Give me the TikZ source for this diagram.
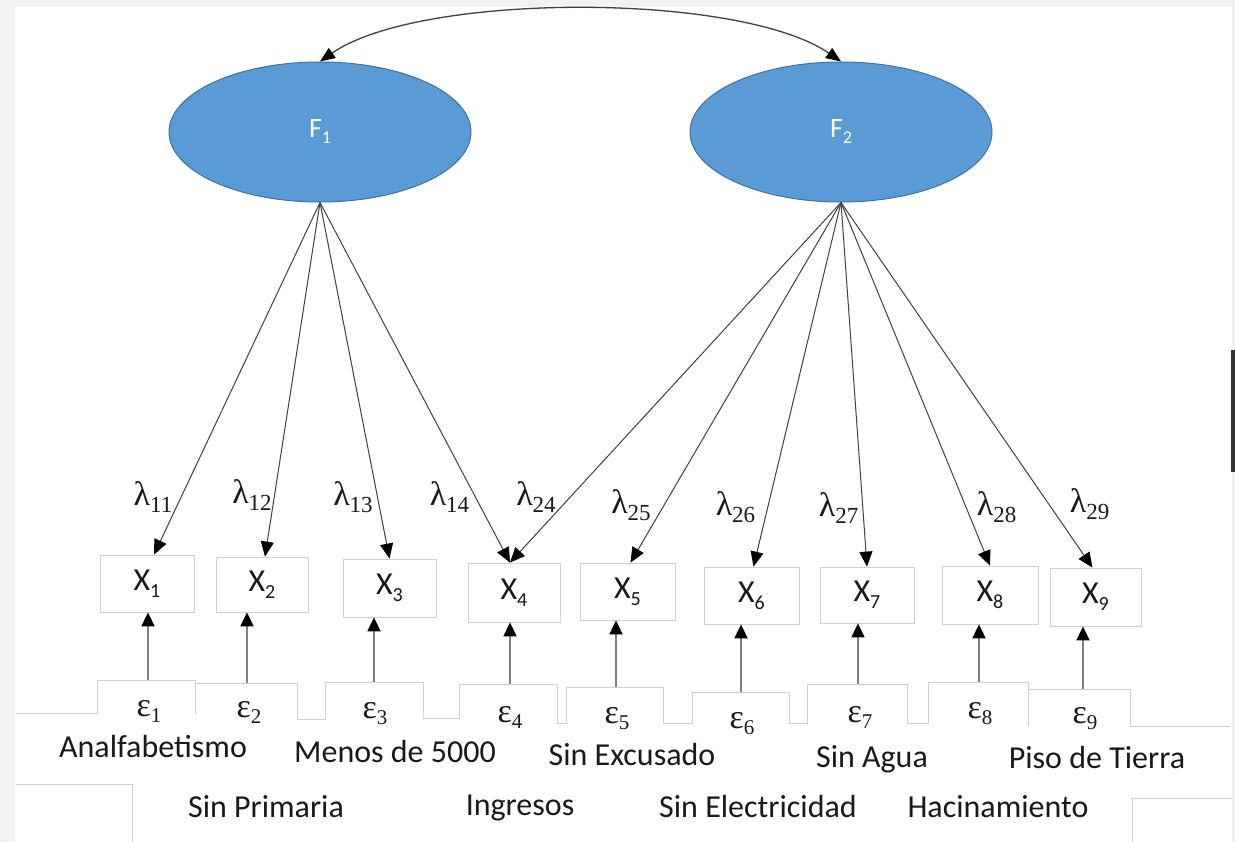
\documentclass[tikz,border=0pt]{standalone}
\usepackage{fontspec}
\setmainfont{Carlito}
\newfontfamily\serifgr{Liberation Serif}
\usetikzlibrary{arrows.meta,shapes.geometric,calc}
\definecolor{fblue}{HTML}{5B9BD5}
\definecolor{fborder}{HTML}{41719C}
\definecolor{boxgray}{HTML}{D0D0D0}
\definecolor{linegray}{HTML}{404040}
\definecolor{errgray}{HTML}{808080}
\definecolor{bggray}{HTML}{F2F2F2}
\definecolor{darkbar}{HTML}{3B342E}
\newcommand{\myfs}[1]{\fontsize{#1}{#1}\selectfont}
\newcommand{\mysub}[3]{\raisebox{-#1}{\myfs{#2}#3}}
\begin{document}
\begin{tikzpicture}[x=1pt,y=-1pt,
  latent/.style={ellipse, draw=fborder, line width=1pt, fill=fblue, text=white, minimum width=302pt, minimum height=140pt, inner sep=0pt, font=\myfs{28}},
  obs/.style={rectangle, draw=boxgray, line width=0.8pt, inner sep=0pt, font=\myfs{32}, text=black!90},
  errlab/.style={inner sep=0pt, font=\serifgr\myfs{34}, text=black!90},
  lamlab/.style={inner sep=0pt, font=\serifgr\myfs{34}, text=black!90},
  varlab/.style={inner sep=0pt, anchor=base, font=\myfs{32}, text=black!90},
  load/.style={draw=linegray, line width=1pt, -{Triangle[length=15pt,width=13pt,color=black]}},
  errarr/.style={draw=errgray, line width=1.8pt, -{Triangle[length=14pt,width=13pt,color=black]}},
  corr/.style={draw=linegray, line width=1.3pt, {Triangle[length=15pt,width=12pt,color=black]}-{Triangle[length=15pt,width=12pt,color=black]}},
  edgeline/.style={draw=boxgray, line width=0.8pt}
]
\useasboundingbox (0,0) rectangle (1235,842);
\fill[bggray] (0,0) rectangle (1235,842);
\fill[white] (15,7) rectangle (1232,842);
\fill[darkbar] (1231,350) rectangle (1235,472);

% latent factors
\node[latent] (F1) at (320,132) {F\mysub{6pt}{18}{1}};
\node[latent] (F2) at (841,132) {F\mysub{6pt}{18}{2}};
\draw[corr] (F1.north) .. controls (420,-8) and (740,-8) .. (F2.north);

% observed variables
\node[obs, minimum width=94pt, minimum height=57pt] (X1) at (147,583.5) {X\mysub{7pt}{20}{1}};
\node[obs, minimum width=92pt, minimum height=55pt] (X2) at (262,584.5) {X\mysub{7pt}{20}{2}};
\node[obs, minimum width=93pt, minimum height=58pt] (X3) at (389.5,588) {X\mysub{7pt}{20}{3}};
\node[obs, minimum width=92pt, minimum height=59pt] (X4) at (514,592.5) {X\mysub{7pt}{20}{4}};
\node[obs, minimum width=95pt, minimum height=57pt] (X5) at (627.5,591.5) {X\mysub{7pt}{20}{5}};
\node[obs, minimum width=95pt, minimum height=57pt] (X6) at (751.5,595.5) {X\mysub{7pt}{20}{6}};
\node[obs, minimum width=94pt, minimum height=56pt] (X7) at (867,595) {X\mysub{7pt}{20}{7}};
\node[obs, minimum width=96pt, minimum height=58pt] (X8) at (990,595) {X\mysub{7pt}{20}{8}};
\node[obs, minimum width=91pt, minimum height=58pt] (X9) at (1095.5,597) {X\mysub{7pt}{20}{9}};

% loadings
\draw[load] (F1.south) -- ([xshift=7pt]X1.north);
\draw[load] (F1.south) -- ([xshift=3pt]X2.north);
\draw[load] (F1.south) -- (X3.north);
\draw[load] (F1.south) -- ([xshift=-4pt]X4.north);
\draw[load] (F2.south) -- ([xshift=-4pt]X4.north);
\draw[load] (F2.south) -- ([xshift=3pt]X5.north);
\draw[load] (F2.south) -- ([xshift=2pt]X6.north);
\draw[load] (F2.south) -- (X7.north);
\draw[load] (F2.south) -- (X8.north);
\draw[load] (F2.south) -- ([xshift=-3pt]X9.north);

% loading labels
\node[lamlab] (L11) at (153,497) {λ\mysub{7pt}{23}{11}};
\node[lamlab] (L12) at (252,495) {λ\mysub{7pt}{23}{12}};
\node[lamlab] (L13) at (353,497) {λ\mysub{7pt}{23}{13}};
\node[lamlab] (L14) at (449.5,497) {λ\mysub{7pt}{23}{14}};
\node[lamlab] (L24) at (536,497) {λ\mysub{7pt}{23}{24}};
\node[lamlab] (L25) at (631,505) {λ\mysub{7pt}{23}{25}};
\node[lamlab] (L26) at (735.5,507) {λ\mysub{7pt}{23}{26}};
\node[lamlab] (L27) at (838.5,508) {λ\mysub{7pt}{23}{27}};
\node[lamlab] (L28) at (996.5,507) {λ\mysub{7pt}{23}{28}};
\node[lamlab] (L29) at (1089.5,504) {λ\mysub{7pt}{23}{29}};

% error box outlines
\draw[edgeline] (16,713) -- (97,713) -- (97,680) -- (195,680) -- (195,714);
\draw[edgeline] (195,683) -- (297,683) -- (297,719) -- (325,719) -- (325,682) -- (423,682) -- (423,718) -- (459,718) -- (459,684) -- (557,684) -- (557,723) -- (566,723) -- (566,687) -- (663,687) -- (663,723) -- (692,723) -- (692,692) -- (789,692) -- (789,723) -- (807,723) -- (807,684) -- (907,684) -- (907,723) -- (928,723) -- (928,682) -- (1028,682) -- (1028,726);
\draw[edgeline] (1028,689) -- (1130,689) -- (1130,726) -- (1230,726);

% error terms
\coordinate (t1) at (148,680);
\coordinate (t2) at (247,683);
\coordinate (t3) at (374,682);
\coordinate (t4) at (510,684);
\coordinate (t5) at (616,687);
\coordinate (t6) at (741,692);
\coordinate (t7) at (858,684);
\coordinate (t8) at (979,682);
\coordinate (t9) at (1083,689);
\draw[errarr] (t1) -- (t1 |- X1.south);
\draw[errarr] (t2) -- (t2 |- X2.south);
\draw[errarr] (t3) -- (t3 |- X3.south);
\draw[errarr] (t4) -- (t4 |- X4.south);
\draw[errarr] (t5) -- (t5 |- X5.south);
\draw[errarr] (t6) -- (t6 |- X6.south);
\draw[errarr] (t7) -- (t7 |- X7.south);
\draw[errarr] (t8) -- (t8 |- X8.south);
\draw[errarr] (t9) -- (t9 |- X9.south);
\node[errlab] (E1) at (149,711) {ε\mysub{6pt}{21}{1}};
\node[errlab] (E2) at (249,712) {ε\mysub{6pt}{21}{2}};
\node[errlab] (E3) at (375,714) {ε\mysub{6pt}{21}{3}};
\node[errlab] (E4) at (510,717) {ε\mysub{6pt}{21}{4}};
\node[errlab] (E5) at (617,719) {ε\mysub{6pt}{21}{5}};
\node[errlab] (E6) at (742,724) {ε\mysub{6pt}{21}{6}};
\node[errlab] (E7) at (860,717) {ε\mysub{6pt}{21}{7}};
\node[errlab] (E8) at (980,714) {ε\mysub{6pt}{21}{8}};
\node[errlab] (E9) at (1085,719) {ε\mysub{6pt}{21}{9}};

% variable names
\node[varlab] (n1) at (153,757) {Analfabetismo};
\node[varlab] (n2) at (266,817) {Sin Primaria};
\node[varlab] (n3) at (395,762) {Menos de 5000};
\node[varlab] (n4) at (520,815) {Ingresos};
\node[varlab] (n5) at (632,765) {Sin Excusado};
\node[varlab] (n6) at (758,817) {Sin Electricidad};
\node[varlab] (n7) at (872,767) {Sin Agua};
\node[varlab] (n8) at (998,817) {Hacinamiento};
\node[varlab] (n9) at (1097,768) {Piso de Tierra};

% frame pieces at the bottom
\draw[edgeline] (16,784) -- (132,784) -- (132,842);
\draw[edgeline] (1132,842) -- (1132,798) -- (1232,798);
\end{tikzpicture}
\end{document}
